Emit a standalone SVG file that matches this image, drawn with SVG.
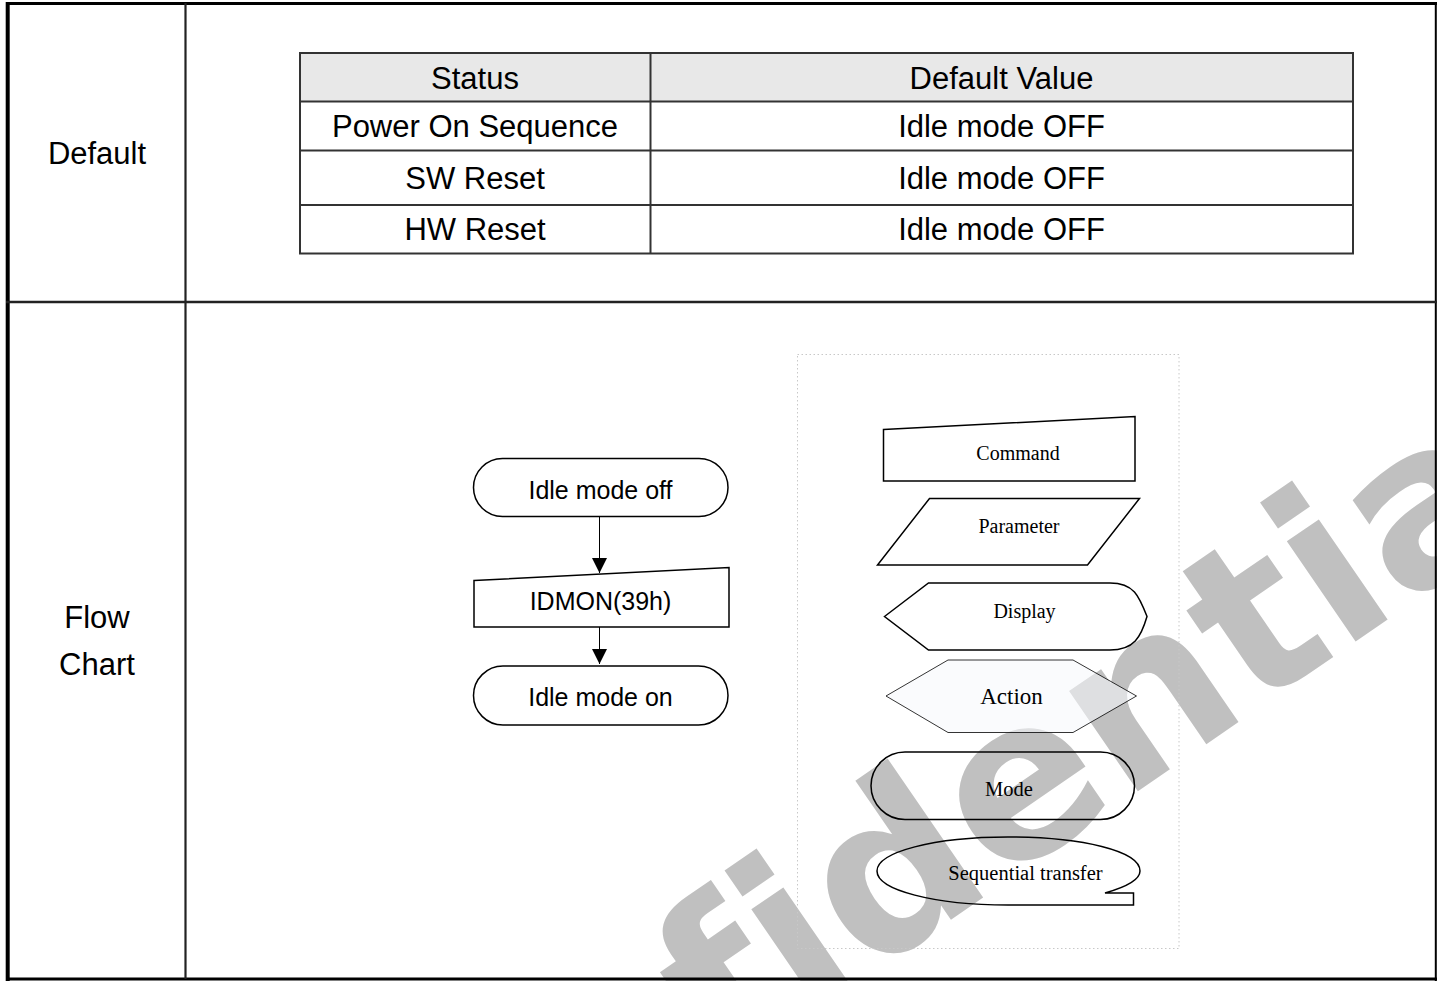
<svg xmlns="http://www.w3.org/2000/svg" width="1437" height="981" viewBox="0 0 1437 981">
<defs>
<style>
.lbl{font-family:"Liberation Sans",Arial,sans-serif;font-size:31px;fill:#000;text-anchor:middle}
.fc{font-family:"Liberation Sans",Arial,sans-serif;font-size:25px;fill:#000;text-anchor:middle}
.lg{font-family:"Liberation Serif","Times New Roman",serif;font-size:20px;fill:#000;text-anchor:middle}
.tbl{fill:none;stroke:#333;stroke-width:2}
.shape{fill:none;stroke:#000;stroke-width:1.5}
.conn{stroke:#000;stroke-width:1;fill:none}
.wm{font-family:"DejaVu Sans",sans-serif;font-weight:bold;font-size:222px;fill:#c0c0c0;font-variant-ligatures:none;font-feature-settings:"liga" 0,"clig" 0}
</style>
<marker id="arr" viewBox="0 0 15 15" refX="15" refY="7.5" markerWidth="15" markerHeight="15" markerUnits="userSpaceOnUse" orient="auto">
<path d="M0,0 L15,7.5 L0,15 Z" fill="#000"/>
</marker>
</defs>
<rect x="0" y="0" width="1437" height="981" fill="#fff"/>

<g id="watermark">
<text class="wm" transform="translate(335,1343) rotate(-34.5)">Confidential</text>
</g>

<g id="frame">
<line x1="6" y1="3.5" x2="1437" y2="3.5" stroke="#000" stroke-width="3.2"/>
<line x1="7.7" y1="2" x2="7.7" y2="981" stroke="#000" stroke-width="4"/>
<line x1="1435.8" y1="2" x2="1435.8" y2="981" stroke="#000" stroke-width="2"/>
<line x1="6" y1="979" x2="1437" y2="979" stroke="#000" stroke-width="3.2"/>
<line x1="185.5" y1="3" x2="185.5" y2="979" stroke="#222" stroke-width="2.2"/>
<line x1="6" y1="302" x2="1437" y2="302" stroke="#222" stroke-width="2.4"/>
<text class="lbl" x="97" y="164">Default</text>
<text class="lbl" x="97" y="628">Flow</text>
<text class="lbl" x="97" y="675">Chart</text>
</g>

<g id="default-table">
<rect x="300" y="53" width="1053" height="48.5" fill="#e8e8e8"/>
<rect class="tbl" x="300" y="53" width="1053" height="200.5"/>
<line class="tbl" x1="300" y1="101.5" x2="1353" y2="101.5"/>
<line class="tbl" x1="300" y1="150.5" x2="1353" y2="150.5"/>
<line class="tbl" x1="300" y1="205" x2="1353" y2="205"/>
<line class="tbl" x1="650.5" y1="53" x2="650.5" y2="253.5"/>
<text class="lbl" x="475" y="89">Status</text>
<text class="lbl" x="1001.5" y="89">Default Value</text>
<text class="lbl" x="475" y="137">Power On Sequence</text>
<text class="lbl" x="1001.5" y="137">Idle mode OFF</text>
<text class="lbl" x="475" y="189">SW Reset</text>
<text class="lbl" x="1001.5" y="189">Idle mode OFF</text>
<text class="lbl" x="475" y="240">HW Reset</text>
<text class="lbl" x="1001.5" y="240">Idle mode OFF</text>
</g>

<g id="node-idle-off">
<rect class="shape" x="473.5" y="458.5" width="254.5" height="58" rx="29" ry="29" fill="#fff"/>
<text class="fc" x="600.5" y="499">Idle mode off</text>
</g>
<g id="node-idmon">
<path class="shape" d="M474,580.5 L729,567.5 L729,627 L474,627 Z" fill="#fff"/>
<text class="fc" x="600.5" y="610">IDMON(39h)</text>
</g>
<g id="node-idle-on">
<rect class="shape" x="473.5" y="666" width="254.5" height="59" rx="29.5" ry="29.5" fill="#fff"/>
<text class="fc" x="600.5" y="706">Idle mode on</text>
</g>

<g id="connectors">
<line class="conn" x1="599.5" y1="517" x2="599.5" y2="573" marker-end="url(#arr)"/>
<line class="conn" x1="599.5" y1="627" x2="599.5" y2="664" marker-end="url(#arr)"/>
</g>

<g id="legend">
<rect x="797.5" y="354.5" width="381.5" height="594" fill="none" stroke="#c8c8c8" stroke-width="1" stroke-dasharray="1.5,2.5"/>
<g id="legend-command">
<path class="shape" d="M883.5,429.5 L1135,416.5 L1135,481 L883.5,481 Z"/>
<text class="lg" x="1018" y="460">Command</text>
</g>
<g id="legend-parameter">
<path class="shape" d="M929.5,498.5 L1139.5,498.5 L1087.5,565 L877.5,565 Z"/>
<text class="lg" x="1019" y="533">Parameter</text>
</g>
<g id="legend-display">
<path class="shape" d="M884.5,616.5 L928.5,583 L1110,583 C1134,583 1139,596 1147,616.5 C1141,637 1134,650 1110,650 L928.5,650 Z"/>
<text class="lg" x="1024.5" y="617.5">Display</text>
</g>
<g id="legend-action">
<path d="M886,696 L948,660 L1073,660 L1136.5,696 L1073,732.5 L948,732.5 Z" fill="#f6f8fc" fill-opacity="0.55" stroke="#000" stroke-width="0.8"/>
<text class="lg" x="1011.5" y="703.5" style="font-size:23px">Action</text>
</g>
<g id="legend-mode">
<rect class="shape" x="871" y="752" width="263.5" height="67.5" rx="34" ry="33.75"/>
<text class="lg" x="1009" y="795.5" style="font-size:20.5px">Mode</text>
</g>
<g id="legend-seq">
<path class="shape" d="M1133.5,905 L1133.5,893 L1105,893 C1126,887 1140,880 1140,871 C1140,851 1082,837 1008,837 C934,837 877,852 877,871 C877,890 934,905 1008,905 Z"/>
<text class="lg" x="1025.5" y="880" style="font-size:20.5px">Sequential transfer</text>
</g>
</g>
</svg>
